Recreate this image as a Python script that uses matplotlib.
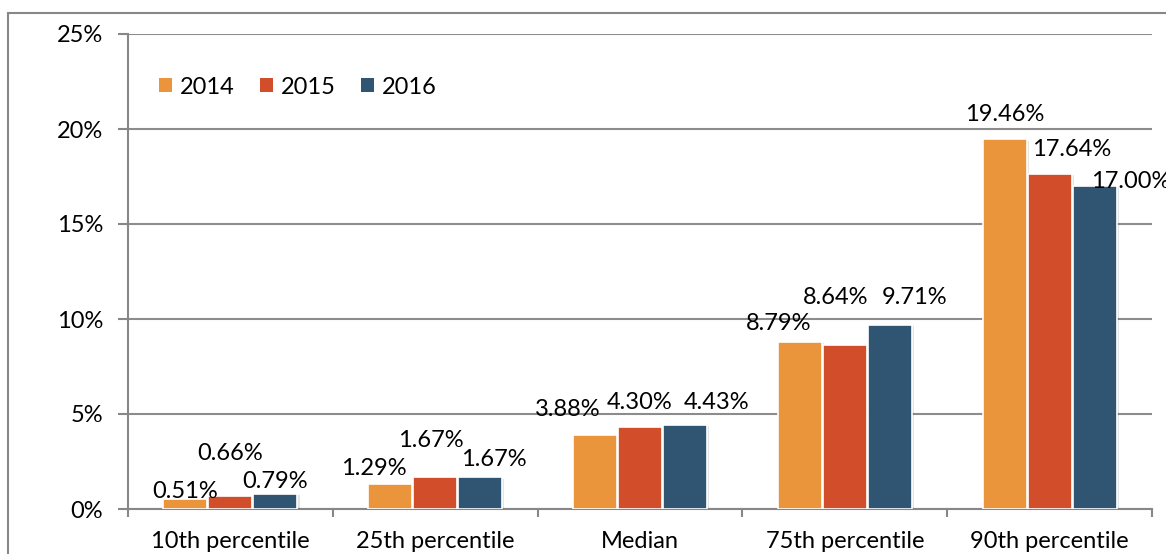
import matplotlib
matplotlib.use("Agg")
import matplotlib.pyplot as plt
import numpy as np
from matplotlib.patches import Rectangle
from matplotlib.ticker import FixedLocator, FuncFormatter
import matplotlib.patheffects as pe

categories = ["10th percentile", "25th percentile", "Median", "75th percentile", "90th percentile"]
years = ["2014", "2015", "2016"]
values_2014 = [0.51, 1.29, 3.88, 8.79, 19.46]
values_2015 = [0.66, 1.67, 4.30, 8.64, 17.64]
values_2016 = [0.79, 1.67, 4.43, 9.71, 17.00]
yticks = [0, 5, 10, 15, 20, 25]

series = [values_2014, values_2015, values_2016]
colors = ["#EA943C", "#D24E2B", "#2F5572"]

# label offsets (pixels: dx, dy above bar top) – styling only
label_offsets = [
    [(0, 1), (-16, 9.5), (-27, 19), (-21.5, 12), (0, 18)],
    [(0, 36.5), (-4.5, 30), (0, 18), (-9.5, 41), (22, 18)],
    [(0, 6), (13.5, 11), (32, 16), (24.5, 20.5), (36, -2)],
]

plt.rcParams['font.family'] = ['Lato', 'DejaVu Sans']
FS = 17
W, H = 1166, 554
fig = plt.figure(figsize=(W / 100, H / 100), dpi=100)
ax = fig.add_axes([128 / W, 45 / H, (1152 - 128) / W, 475 / H])

# outer chart border
fig.patches.append(Rectangle((8 / W, -0.05), 1.2, (H - 13) / H + 0.05, transform=fig.transFigure,
                             fill=False, edgecolor="#878787", linewidth=1.5))

x = np.arange(len(categories))
bw = 0.215
gap = 0.005
px2pt = 72 / 100
handles = []
for i, (vals, col, yr) in enumerate(zip(series, colors, years)):
    pos = x + (i - 1) * (bw + gap)
    bars = ax.bar(pos, vals, width=bw, color=col, edgecolor="white", linewidth=1.2, zorder=3)
    for b in bars:
        b.set_path_effects([pe.SimplePatchShadow(offset=(1.5, -1), alpha=0.12), pe.Normal()])
    handles.append(Rectangle((0, 0), 1, 1, facecolor=col, edgecolor="none"))
    for j, (p, v) in enumerate(zip(pos, vals)):
        dx, dy = label_offsets[i][j]
        ax.annotate(f"{v:.2f}%", xy=(p, v), xytext=(dx * px2pt, dy * px2pt), textcoords="offset points",
                    ha="center", va="baseline", fontsize=FS, color="black", zorder=5,
                    annotation_clip=False)

ax.set_xlim(-0.5, len(categories) - 0.5)
ax.set_ylim(0, 25)
ax.yaxis.set_major_locator(FixedLocator(yticks))
ax.yaxis.set_major_formatter(FuncFormatter(lambda v, _: f"{v:.0f}%"))
ax.set_xticks(x)
ax.set_xticklabels(categories)
ax.set_xticks(np.arange(-0.5, len(categories)), minor=True)
ax.tick_params(axis="x", which="major", length=0, pad=16, labelsize=FS)
ax.tick_params(axis="x", which="minor", length=6, width=1.5, color="#878787", direction="out")
ax.tick_params(axis="y", length=7, width=1.5, color="#878787", pad=11, labelsize=FS)

ax.grid(axis="y", color="#8C8C8C", linewidth=1.5, zorder=0)
ax.set_axisbelow(True)
for s in ["top", "right"]:
    ax.spines[s].set_visible(False)
for s in ["left", "bottom"]:
    ax.spines[s].set_color("#878787")
    ax.spines[s].set_linewidth(1.5)

leg = ax.legend(handles, years, loc="upper left", bbox_to_anchor=(0.021, 0.93), ncol=3, frameon=False,
                fontsize=FS, handlelength=0.55, handleheight=0.55, handletextpad=0.35,
                columnspacing=1.05, borderaxespad=0)

fig.savefig("out.png", dpi=100)
